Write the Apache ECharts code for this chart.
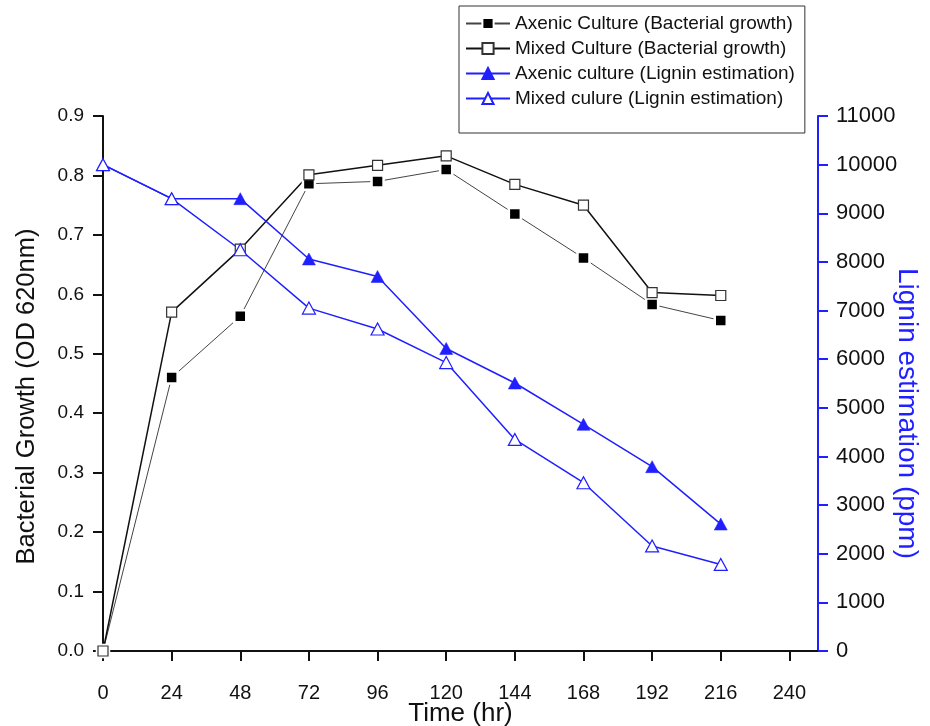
<!DOCTYPE html>
<html>
<head>
<meta charset="utf-8">
<title>Bacterial growth and lignin estimation</title>
<script src="https://cdn.jsdelivr.net/npm/echarts@6/dist/echarts.min.js"></script>
<style>
  html, body { margin: 0; padding: 0; background: #fff; }
  #chart { width: 930px; height: 726px; }
</style>
</head>
<body>
<div id="chart"></div>
<script>
// ─── Data ─────────────────────────────────────────────────────────
const timeHours = [0, 24, 48, 72, 96, 120, 144, 168, 192, 216];
const axenicGrowth = [0, 0.46, 0.563, 0.786, 0.79, 0.81, 0.735, 0.661, 0.583, 0.556];
const mixedGrowth = [0, 0.57, 0.676, 0.801, 0.817, 0.833, 0.785, 0.75, 0.603, 0.598];
const axenicLignin = [10000, 9300, 9300, 8060, 7700, 6220, 5510, 4660, 3790, 2610];
const mixedLignin = [10000, 9300, 8250, 7050, 6620, 5930, 4350, 3460, 2160, 1780];
const xTicks = [0, 24, 48, 72, 96, 120, 144, 168, 192, 216, 240];

const seriesNames = [
  "Axenic Culture (Bacterial growth)",
  "Mixed Culture (Bacterial growth)",
  "Axenic culture (Lignin estimation)",
  "Mixed culure (Lignin estimation)",
];

const BLUE = "#1f1fff";
const FONT = "'Liberation Sans', Arial, sans-serif";

const pairs = (ys) => timeHours.map((t, i) => [t, ys[i]]);

const chart = echarts.init(document.getElementById("chart"), null, { renderer: "canvas" });

chart.setOption({
  animation: false,
  backgroundColor: "#fff",
  grid: { left: 103, right: 112, top: 116, bottom: 75, containLabel: false, outerBoundsMode: "none" },
  legend: {
    orient: "vertical",
    left: 459,
    top: 6,
    padding: [8, 10, 25, 6],
    borderColor: "#333",
    borderWidth: 1,
    itemWidth: 44,
    itemHeight: 14,
    itemGap: 6,
    textStyle: { fontFamily: FONT, fontSize: 19, color: "#111" },
    data: seriesNames,
  },
  xAxis: {
    type: "value",
    min: 0,
    max: 250,
    name: "Time (hr)",
    nameLocation: "middle",
    nameGap: 50,
    nameMoveOverlap: false,
    nameTextStyle: { fontFamily: FONT, fontSize: 26, color: "#111" },
    axisLine: { lineStyle: { color: "#111", width: 2 } },
    axisTick: { show: true, length: 10, customValues: xTicks, lineStyle: { color: "#111", width: 2 } },
    axisLabel: { customValues: xTicks, margin: 32, fontFamily: FONT, fontSize: 20, color: "#111" },
    splitLine: { show: false },
  },
  yAxis: [
    {
      type: "value",
      min: 0,
      max: 0.9,
      interval: 0.1,
      name: "Bacterial Growth (OD 620nm)",
      nameLocation: "middle",
      nameGap: 63,
      nameMoveOverlap: false,
      nameTextStyle: { fontFamily: FONT, fontSize: 25.5, color: "#111", padding: [0, 26, 0, 0] },
      axisLine: { show: true, onZero: false, lineStyle: { color: "#111", width: 2 } },
      axisTick: { show: true, length: 10, lineStyle: { color: "#111", width: 2 } },
      axisLabel: { margin: 19, fontFamily: FONT, fontSize: 19, color: "#111",
        formatter: (v) => v.toFixed(1) },
      splitLine: { show: false },
    },
    {
      type: "value",
      position: "right",
      min: 0,
      max: 11000,
      interval: 1000,
      name: "Lignin estimation (ppm)",
      nameLocation: "middle",
      nameGap: 75,
      nameMoveOverlap: false,
      nameRotate: -90,
      nameTextStyle: { fontFamily: FONT, fontSize: 28, color: BLUE, padding: [0, 0, 0, 60] },
      axisLine: { show: true, onZero: false, lineStyle: { color: BLUE, width: 2 } },
      axisTick: { show: true, length: 10, lineStyle: { color: BLUE, width: 2 } },
      axisLabel: { margin: 18, fontFamily: FONT, fontSize: 22, color: "#111",
        formatter: (v) => String(v) },
      splitLine: { show: false },
    },
  ],
  series: [
    {
      name: seriesNames[0],
      type: "line",
      yAxisIndex: 0,
      data: pairs(axenicGrowth),
      symbol: "rect",
      symbolSize: 12,
      lineStyle: { color: "#444", width: 1 },
      itemStyle: { color: "#000", borderColor: "#fff", borderWidth: 2.5 },
    },
    {
      name: seriesNames[1],
      type: "line",
      yAxisIndex: 0,
      data: pairs(mixedGrowth),
      symbol: "rect",
      symbolSize: 10,
      lineStyle: { color: "#111", width: 1.5 },
      itemStyle: { color: "#fff", borderColor: "#333", borderWidth: 1.2 },
    },
    {
      name: seriesNames[2],
      type: "line",
      yAxisIndex: 1,
      data: pairs(axenicLignin),
      symbol: "triangle",
      symbolSize: [13, 12],
      lineStyle: { color: BLUE, width: 1.5 },
      itemStyle: { color: BLUE, borderColor: BLUE, borderWidth: 0.5 },
    },
    {
      name: seriesNames[3],
      type: "line",
      yAxisIndex: 1,
      data: pairs(mixedLignin),
      symbol: "triangle",
      symbolSize: [13, 12],
      lineStyle: { color: BLUE, width: 1.5 },
      itemStyle: { color: "#fff", borderColor: BLUE, borderWidth: 1.2 },
    },
  ],
});
</script>
</body>
</html>
